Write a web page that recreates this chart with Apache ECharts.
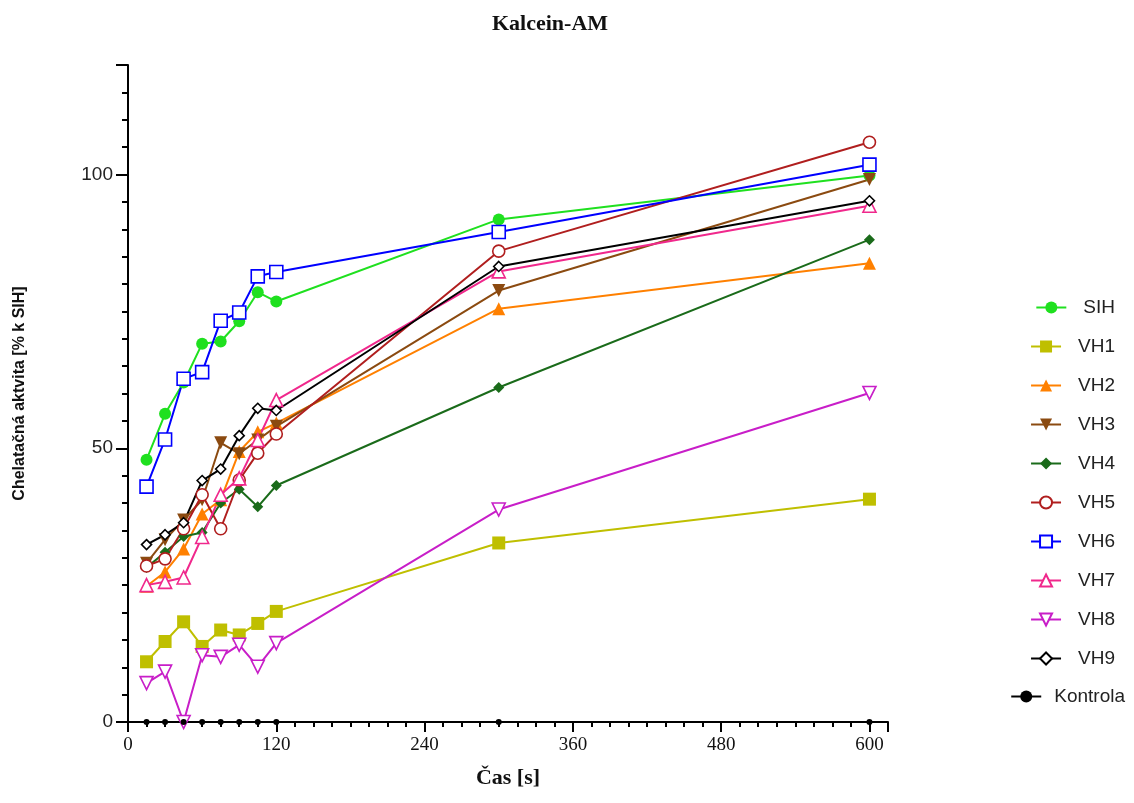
<!DOCTYPE html>
<html>
<head>
<meta charset="utf-8">
<script src="https://cdn.jsdelivr.net/npm/echarts@6/dist/echarts.min.js"></script>
<style>
  html, body { margin: 0; padding: 0; background: #fff; }
  #chart { width: 1134px; height: 803px; }
</style>
</head>
<body>
<div id="chart"></div>
<script>
// time points [s]
const times = [15, 30, 45, 60, 75, 90, 105, 120, 300, 600];

const sih = [47.9, 56.3, 62.0, 69.1, 69.5, 73.2, 78.5, 76.8, 91.8, 99.8];
const vh1 = [11.0, 14.7, 18.3, 13.8, 16.8, 15.9, 18.0, 20.2, 32.7, 40.7];
const vh2 = [24.8, 27.4, 31.6, 38.0, 40.6, 49.4, 53.0, 54.6, 75.5, 83.8];
const vh3 = [29.0, 33.3, 36.9, 40.6, 51.0, 49.0, 51.5, 54.0, 78.8, 99.1];
const vh4 = [28.2, 31.0, 33.9, 34.6, 40.0, 42.5, 39.3, 43.2, 61.1, 88.1];
const vh5 = [28.5, 29.8, 35.3, 41.5, 35.3, 44.2, 49.1, 52.6, 86.0, 105.9];
const vh6 = [43.0, 51.6, 62.7, 63.9, 73.3, 74.8, 81.4, 82.2, 89.5, 101.8];
const vh7 = [25.0, 25.6, 26.4, 33.8, 41.5, 44.5, 51.5, 58.8, 82.3, 94.3];
const vh8 = [7.1, 9.2, 0.0, 12.2, 11.9, 14.1, 10.1, 14.4, 38.8, 60.1];
const vh9 = [32.4, 34.2, 36.4, 44.1, 46.2, 52.3, 57.3, 56.9, 83.2, 95.2];
const kontrola = [0, 0, 0, 0, 0, 0, 0, 0, 0, 0];

const names = ['SIH', 'VH1', 'VH2', 'VH3', 'VH4', 'VH5', 'VH6', 'VH7', 'VH8', 'VH9', 'Kontrola'];
const values = [sih, vh1, vh2, vh3, vh4, vh5, vh6, vh7, vh8, vh9, kontrola];
const colors = ['#1fe01f', '#bfbf00', '#ff8000', '#8b4a10', '#1a6b1a', '#b01e1e', '#0000ff', '#f0288c', '#c81ec8', '#000000', '#000000'];
// symbol, size, rotate, open
const marks = [
  ['circle', 12, 0, false],
  ['rect', 13, 0, false],
  ['triangle', 13, 0, false],
  ['triangle', 13, 180, false],
  ['diamond', 11, 0, false],
  ['circle', 12, 0, true],
  ['rect', 13, 0, true],
  ['triangle', 13, 0, true],
  ['triangle', 13, 180, true],
  ['diamond', 10, 0, true],
  ['circle', 6, 0, false]
];

const chart = echarts.init(document.getElementById('chart'));

const series = names.map((name, i) => {
  const m = marks[i];
  return {
    name: name,
    type: 'line',
    data: times.map((t, j) => [t, values[i][j]]),
    symbol: m[0],
    symbolSize: m[1],
    symbolRotate: m[2],
    showSymbol: true,
    lineStyle: { color: colors[i], width: 2 },
    itemStyle: m[3]
      ? { color: '#fff', borderColor: colors[i], borderWidth: 1.6 }
      : { color: colors[i], borderWidth: 0 },
    z: 3
  };
});

const legendTops = [293, 332, 371, 410, 449, 488, 527, 566, 605, 644, 682];
const legends = names.map((name, i) => ({
  data: [name],
  orient: 'vertical',
  right: i === 10 ? 4 : 14,
  top: legendTops[i],
  itemWidth: 30,
  itemHeight: 15,
  itemGap: 0,
  selectedMode: false,
  textStyle: { fontFamily: 'Liberation Sans', fontSize: 19, color: '#222', padding: [0, 0, 0, i === 10 ? 8 : 12] }
}));

const option = {
  animation: false,
  title: {
    text: 'Kalcein-AM',
    left: 545,
    top: 8,
    textAlign: 'center',
    textStyle: { fontFamily: 'Liberation Serif', fontWeight: 'bold', fontSize: 22, color: '#111' }
  },
  legend: legends,
  grid: { left: 128, right: 246, top: 65, bottom: 81, containLabel: false },
  xAxis: [
    {
      type: 'value',
      min: 0,
      max: 615,
      interval: 15,
      position: 'bottom',
      name: 'Čas [s]',
      nameLocation: 'middle',
      nameGap: 45,
      nameTextStyle: { fontFamily: 'Liberation Serif', fontWeight: 'bold', fontSize: 22, color: '#111' },
      axisLine: { lineStyle: { color: '#000', width: 2 } },
      axisTick: { show: true, length: 5, lineStyle: { color: '#000', width: 2 } },
      axisLabel: {
        margin: 14,
        fontFamily: 'Liberation Serif',
        fontSize: 19,
        color: '#111',
        showMaxLabel: false,
        formatter: v => (v % 120 === 0 ? String(v) : '')
      },
      splitLine: { show: false }
    },
    {
      type: 'value',
      min: 0,
      max: 615,
      interval: 120,
      position: 'bottom',
      offset: 0,
      axisLine: { show: false },
      axisTick: { show: true, length: 10, lineStyle: { color: '#000', width: 2 } },
      axisLabel: { show: false },
      splitLine: { show: false }
    }
  ],
  yAxis: [
    {
      type: 'value',
      min: 0,
      max: 120,
      interval: 5,
      position: 'left',
      name: 'Chelatačná aktvita [% k SIH]',
      nameLocation: 'middle',
      nameGap: 100,
      nameTextStyle: { fontFamily: 'Liberation Sans', fontWeight: 'bold', fontSize: 16, color: '#111' },
      axisLine: { show: true, lineStyle: { color: '#000', width: 2 } },
      axisTick: { show: true, length: 6, lineStyle: { color: '#000', width: 2 } },
      axisLabel: {
        margin: 15,
        fontFamily: 'Liberation Sans',
        fontSize: 19,
        color: '#222',
        formatter: v => (v % 50 === 0 ? String(v) : '')
      },
      splitLine: { show: false }
    },
    {
      type: 'value',
      min: 0,
      max: 120,
      interval: 50,
      position: 'left',
      offset: 0,
      axisLine: { show: false },
      axisTick: { show: true, length: 12, lineStyle: { color: '#000', width: 2 } },
      axisLabel: { show: false },
      splitLine: { show: false }
    }
  ],
  series: series
};

chart.setOption(option);
</script>
</body>
</html>
